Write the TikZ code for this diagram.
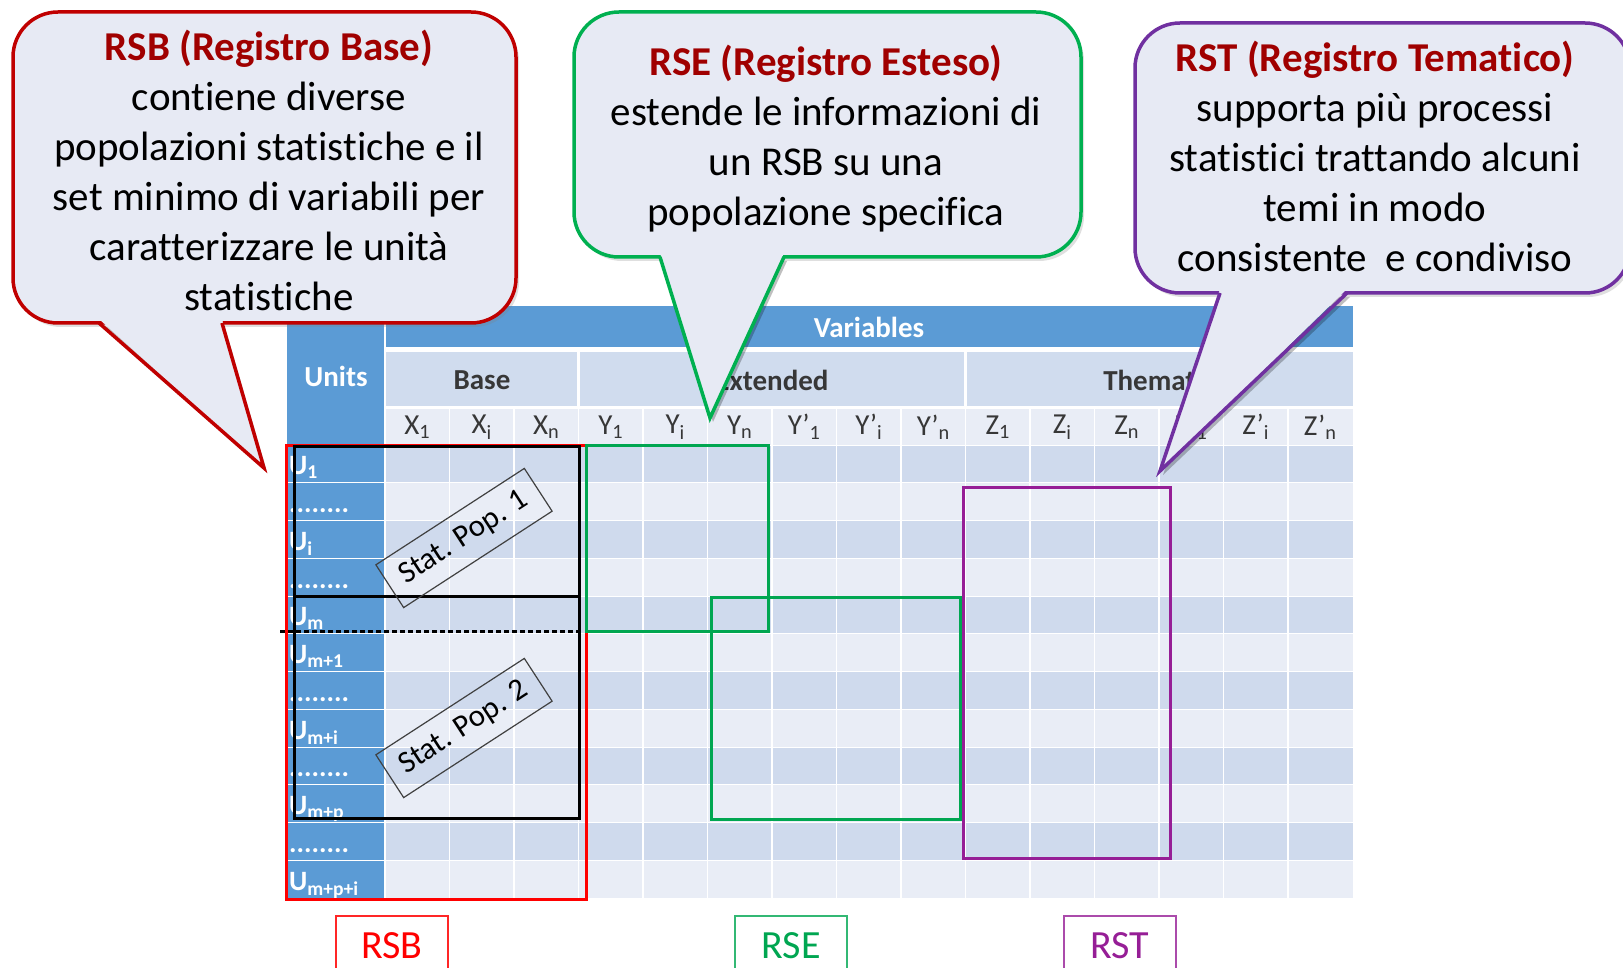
\documentclass[tikz,border=0pt]{standalone}
\usepackage{fontspec}
\setmainfont{Carlito}[Ligatures={NoCommon}]
\usetikzlibrary{shadows}
\definecolor{unitblue}{RGB}{91,155,213}
\definecolor{headlight}{RGB}{208,220,238}
\definecolor{rowdark}{RGB}{207,218,237}
\definecolor{rowlight}{RGB}{233,237,246}
\definecolor{namegray}{RGB}{55,55,55}
\definecolor{calloutfill}{RGB}{231,234,244}
\definecolor{rsbred}{RGB}{192,0,0}
\definecolor{titlered}{RGB}{160,0,0}
\definecolor{rsegreen}{RGB}{0,176,80}
\definecolor{boxgreen}{RGB}{0,166,81}
\definecolor{rstpurple}{RGB}{112,48,160}
\definecolor{boxpurple}{RGB}{150,30,150}
\newcommand{\rowdots}{........}
\begin{document}
\begin{tikzpicture}[x=1pt,y=-1pt,
  hdr/.style={font=\fontsize{29}{35}\selectfont\bfseries},
  varname/.style={text=namegray,font=\fontsize{29}{34}\selectfont},
  rowname/.style={anchor=base west,inner sep=0pt,text=white,font=\fontsize{28}{32}\selectfont\bfseries},
  statpop/.style={draw=darkgray,line width=1.2pt,rotate=33,minimum width=177pt,minimum height=51pt,font=\fontsize{31}{36}\selectfont},
  callout/.style={fill=calloutfill,line width=3.5pt,rounded corners=45pt,inner sep=0pt,drop shadow={shadow xshift=3pt,shadow yshift=-4pt,opacity=.25}},
  callouttext/.style={align=center,font=\fontsize{41}{50}\selectfont},
  tag/.style={line width=1.2pt,minimum width=112pt,minimum height=60pt,font=\fontsize{40}{48}\selectfont}]
\useasboundingbox (0,0) rectangle (1623,968);
\fill[white] (0,0) rectangle (1623,968);
\fill[unitblue] (287,306) rectangle (385,898);
\fill[unitblue] (385,306) rectangle (1353,347);
\fill[headlight] (385,352) rectangle (1353,406);
\fill[rowlight] (385,409) rectangle (1353,445);
\foreach \r in {0,2,...,10} \fill[rowdark] (385,{445+37.75*\r}) rectangle (1353,{482.75+37.75*\r});
\foreach \r in {1,3,...,11} \fill[rowlight] (385,{445+37.75*\r}) rectangle (1353,{482.75+37.75*\r});
\foreach \c in {1,...,14} \draw[white,line width=1.5pt] ({385+64.5*\c},409) -- ({385+64.5*\c},898);
\foreach \r in {0,...,11} \draw[white,line width=1pt] (287,{445+37.75*\r}) -- (1353,{445+37.75*\r});
\foreach \c in {3,9} \draw[white,line width=3pt] ({385+64.5*\c},352) -- ({385+64.5*\c},406);
\draw[white,line width=2pt] (385,306) -- (385,898);
\draw (869,327) node[hdr,text=white] (variables) {Variables};
\draw (336,376) node[hdr,text=white] (units) {Units};
\draw (482,380) node[hdr,text=namegray] (base) {Base};
\draw (772,380) node[hdr,text=namegray] (extended) {Extended};
\draw (1159,380) node[hdr,text=namegray] (thematic) {Thematic};
\foreach \v [count=\i from 0] in {X\textsubscript{1},X\textsubscript{i},X\textsubscript{n},Y\textsubscript{1},Y\textsubscript{i},Y\textsubscript{n},Y’\textsubscript{1},Y’\textsubscript{i},Y’\textsubscript{n},Z\textsubscript{1},Z\textsubscript{i},Z\textsubscript{n},Z’\textsubscript{1},Z’\textsubscript{i},Z’\textsubscript{n}}
  \draw ({417.25+64.5*\i},427) node[varname] (var\i) {\v};
\foreach \u [count=\i from 1] in {U\textsubscript{1},\rowdots,U\textsubscript{i},\rowdots,U\textsubscript{m},U\textsubscript{m+1},\rowdots,U\textsubscript{m+i},\rowdots,U\textsubscript{m+p},\rowdots,U\textsubscript{m+p+i}}
  \draw (289,{437+37.75*\i}) node[rowname] (unit\i) {\u};
\draw[red,line width=3pt] (286,445) rectangle (586,899);
\draw[line width=3pt] (294,446) rectangle (579,818);
\draw[line width=3pt] (294,596) -- (579,596);
\draw[dash pattern=on 5pt off 3pt,line width=3pt] (280,631) -- (579,631);
\draw[boxgreen,line width=3pt] (586,445) rectangle (768,631);
\draw[boxgreen,line width=3pt] (711,597) rectangle (960,819);
\draw[boxpurple,line width=3pt] (963,487) rectangle (1170,858);
\draw (464,538) node[statpop] (pop1) {Stat. Pop. 1};
\draw (464,728) node[statpop] (pop2) {Stat. Pop. 2};
\draw (392,946) node[tag,draw=red!85,text=red] (rsbtag) {RSB};
\draw (791,946) node[tag,draw=boxgreen!80,text=boxgreen] (rsetag) {RSE};
\draw (1120,946) node[tag,draw=boxpurple!80,text=boxpurple] (rsttag) {RST};
\coordinate (rsbtip) at (264,468);
\coordinate (rsetip) at (710,418);
\coordinate (rsttip) at (1160,471);
\fill[black,opacity=.25] (102,327) -- (267,472) -- (225,327) -- cycle;
\draw (264.5,167.5) node[callout,draw=rsbred,minimum width=503pt,minimum height=311pt] (rsb) {};
\fill[calloutfill] (99,319) -- (rsbtip) -- (222,319) -- cycle;
\draw[rsbred,line width=3.5pt] (99,323) -- (rsbtip) -- (222,323);
\draw (269,170) node[callouttext] (rsbtext) {{\color{titlered}\bfseries RSB (Registro Base)}\\contiene diverse\\popolazioni statistiche e il\\set minimo di variabili per\\caratterizzare le unità\\statistiche};
\fill[black,opacity=.25] (663,261) -- (713,422) -- (787,261) -- cycle;
\draw (827.5,134.5) node[callout,draw=rsegreen,minimum width=507pt,minimum height=245pt] (rse) {};
\fill[calloutfill] (660,253) -- (rsetip) -- (784,253) -- cycle;
\draw[rsegreen,line width=3.5pt] (660,257) -- (rsetip) -- (784,257);
\draw (826,139) node[callouttext] (rsetext) {{\color{titlered}\bfseries RSE (Registro Esteso)}\\estende le informazioni di\\un RSB su una\\popolazione specifica};
\fill[black,opacity=.25] (1223,297) -- (1163,475) -- (1350,297) -- cycle;
\draw (1382.5,158) node[callout,draw=rstpurple,minimum width=495pt,minimum height=270pt] (rst) {};
\fill[calloutfill] (1220,289) -- (rsttip) -- (1347,289) -- cycle;
\draw[rstpurple,line width=3.5pt] (1220,293) -- (rsttip) -- (1347,293);
\draw (1375,156) node[callouttext] (rsttext) {{\color{titlered}\bfseries RST (Registro Tematico)}\\supporta più processi\\statistici trattando alcuni\\temi in modo\\consistente\ \ e condiviso};
\end{tikzpicture}
\end{document}
